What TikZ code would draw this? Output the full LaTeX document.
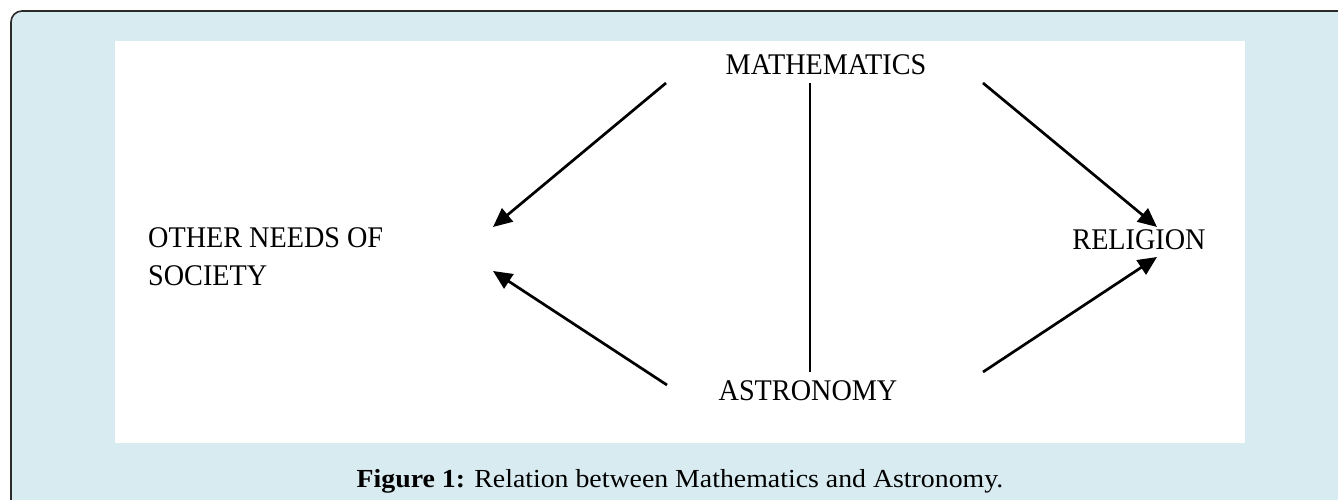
\documentclass[tikz,border=0pt]{standalone}
\usepackage{fontspec}
\setmainfont{Liberation Serif}
\newfontfamily\lblfont[FakeStretch=0.94]{Liberation Serif}
\newfontfamily\capfont[FakeStretch=1.07]{Liberation Serif}
\usetikzlibrary{arrows.meta}
\definecolor{panelbg}{HTML}{D8EBF0}
\definecolor{frameline}{HTML}{2A2A2A}
\tikzset{
  lbl/.style={inner sep=0pt, font=\lblfont\fontsize{30}{38}\selectfont, text=black},
  arr/.style={line width=2.7pt, -{Triangle[length=19pt,width=17pt]}},
  link/.style={line width=2.7pt},
}
\begin{document}
\begin{tikzpicture}[x=1pt,y=-1pt]
\useasboundingbox (0,0) rectangle (1338,499);
\fill[white] (0,0) rectangle (1338,499);
\draw[line width=1.6pt, draw=frameline, fill=panelbg, rounded corners=11pt] (11,11) rectangle (1400,560);
\fill[white] (115,41) rectangle (1245,443);
% labels
\node[lbl, anchor=base] (math) at (826,74.5) {MATHEMATICS};
\node[lbl, anchor=base] (astro) at (808,400) {ASTRONOMY};
\node[lbl, anchor=base] (rel) at (1139,249) {RELIGION};
\node[lbl, anchor=west, align=left] (other) at (148,257) {OTHER NEEDS OF\\SOCIETY};
% connector end points
\coordinate (m1) at (666,83);
\coordinate (m2) at (983,83);
\coordinate (m3) at (810,83);
\coordinate (a1) at (667,385);
\coordinate (a2) at (983,372);
\coordinate (a3) at (810,372);
\coordinate (o1) at (493,227);
\coordinate (o2) at (493,271);
\coordinate (r1) at (1157,227);
\coordinate (r2) at (1157,257);
\draw[arr] (m1) -- (o1);
\draw[arr] (a1) -- (o2);
\draw[arr] (m2) -- (r1);
\draw[arr] (a2) -- (r2);
\draw[link] (m3) -- (a3);
% caption
\node[inner sep=0pt, anchor=base, font=\capfont\fontsize{26}{30}\selectfont] (cap) at (680,487) {\textbf{Figure 1:} Relation between Mathematics and Astronomy.};
\end{tikzpicture}
\end{document}
